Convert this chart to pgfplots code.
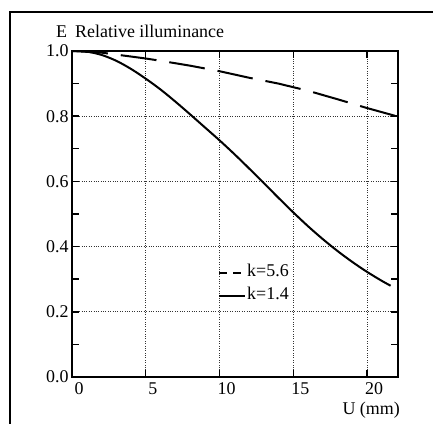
\documentclass[border=0pt]{standalone}
\usepackage{pgfplots}
\pgfplotsset{compat=1.18}
\usepackage{fontspec}
\setmainfont{Liberation Serif}
\begin{document}
\begin{tikzpicture}[font=\fontsize{18}{21}\selectfont]
\path[use as bounding box] (-72bp,-47bp) rectangle (361bp,377bp);
\draw[line width=1.8bp] (-62bp,-50bp) -- (-62bp,365bp) -- (365bp,365bp);
\begin{axis}[
  scale only axis, width=326bp, height=326bp,
  at={(0,0)}, anchor=south west,
  xmin=0, xmax=22.1, ymin=0, ymax=1,
  xtick={0,5,10,15,20}, ytick={0,0.2,0.4,0.6,0.8,1.0},
  minor y tick num=1,
  grid=major,
  major grid style={dotted, line width=1bp, black!80},
  axis line style={line width=1.6bp},
  major tick length=7bp, minor tick length=7bp,
  every tick/.style={line width=1.4bp, black},
  /pgf/number format/assume math mode=true,
  yticklabel style={/pgf/number format/.cd, fixed, fixed zerofill, precision=1},
  xticklabel style={xshift=7bp, yshift=-2bp},
  legend style={at={(axis cs:9.9,0.285)}, anchor=west, draw=none, fill=none,
    inner sep=0pt, row sep=5bp, column sep=0bp,
    nodes={inner sep=1bp, text height=12bp, text depth=4bp}},
  legend cell align=left,
  legend image code/.code={\draw[#1] (0bp,0bp) -- (26bp,0bp);},
]
\addplot[black, line width=2bp, dash pattern=on 36bp off 13bp,
  legend image post style={dash pattern=on 8bp off 6bp}] coordinates {
(0,1.0) (2,0.995) (4,0.983) (5,0.977) (6,0.97) (8,0.955) (10,0.938) (12,0.918)
(14,0.9) (16,0.878) (18,0.852) (20,0.825) (22,0.80)};
\addlegendentry{k=5.6}
\addplot[black, line width=2bp, smooth] coordinates {
(0,1.0) (1,0.998) (2,0.988) (3,0.97) (4,0.945) (5,0.915) (6,0.882)
(7,0.845) (8,0.806) (9,0.766) (10,0.726) (11,0.684) (12,0.640) (13,0.595)
(14,0.5495) (15,0.505) (16,0.4625) (17,0.423) (18,0.3865) (19,0.353) (20,0.3225)
(21,0.295) (21.6,0.28)};
\addlegendentry{k=1.4}
\end{axis}
\node[anchor=base west, inner sep=0pt] at (-16bp,339bp) {E};
\node[anchor=base west, inner sep=0pt] at (3bp,339bp) {Relative illuminance};
\node[anchor=base east, inner sep=0pt] at (328bp,-37bp) {U (mm)};
\end{tikzpicture}
\end{document}
